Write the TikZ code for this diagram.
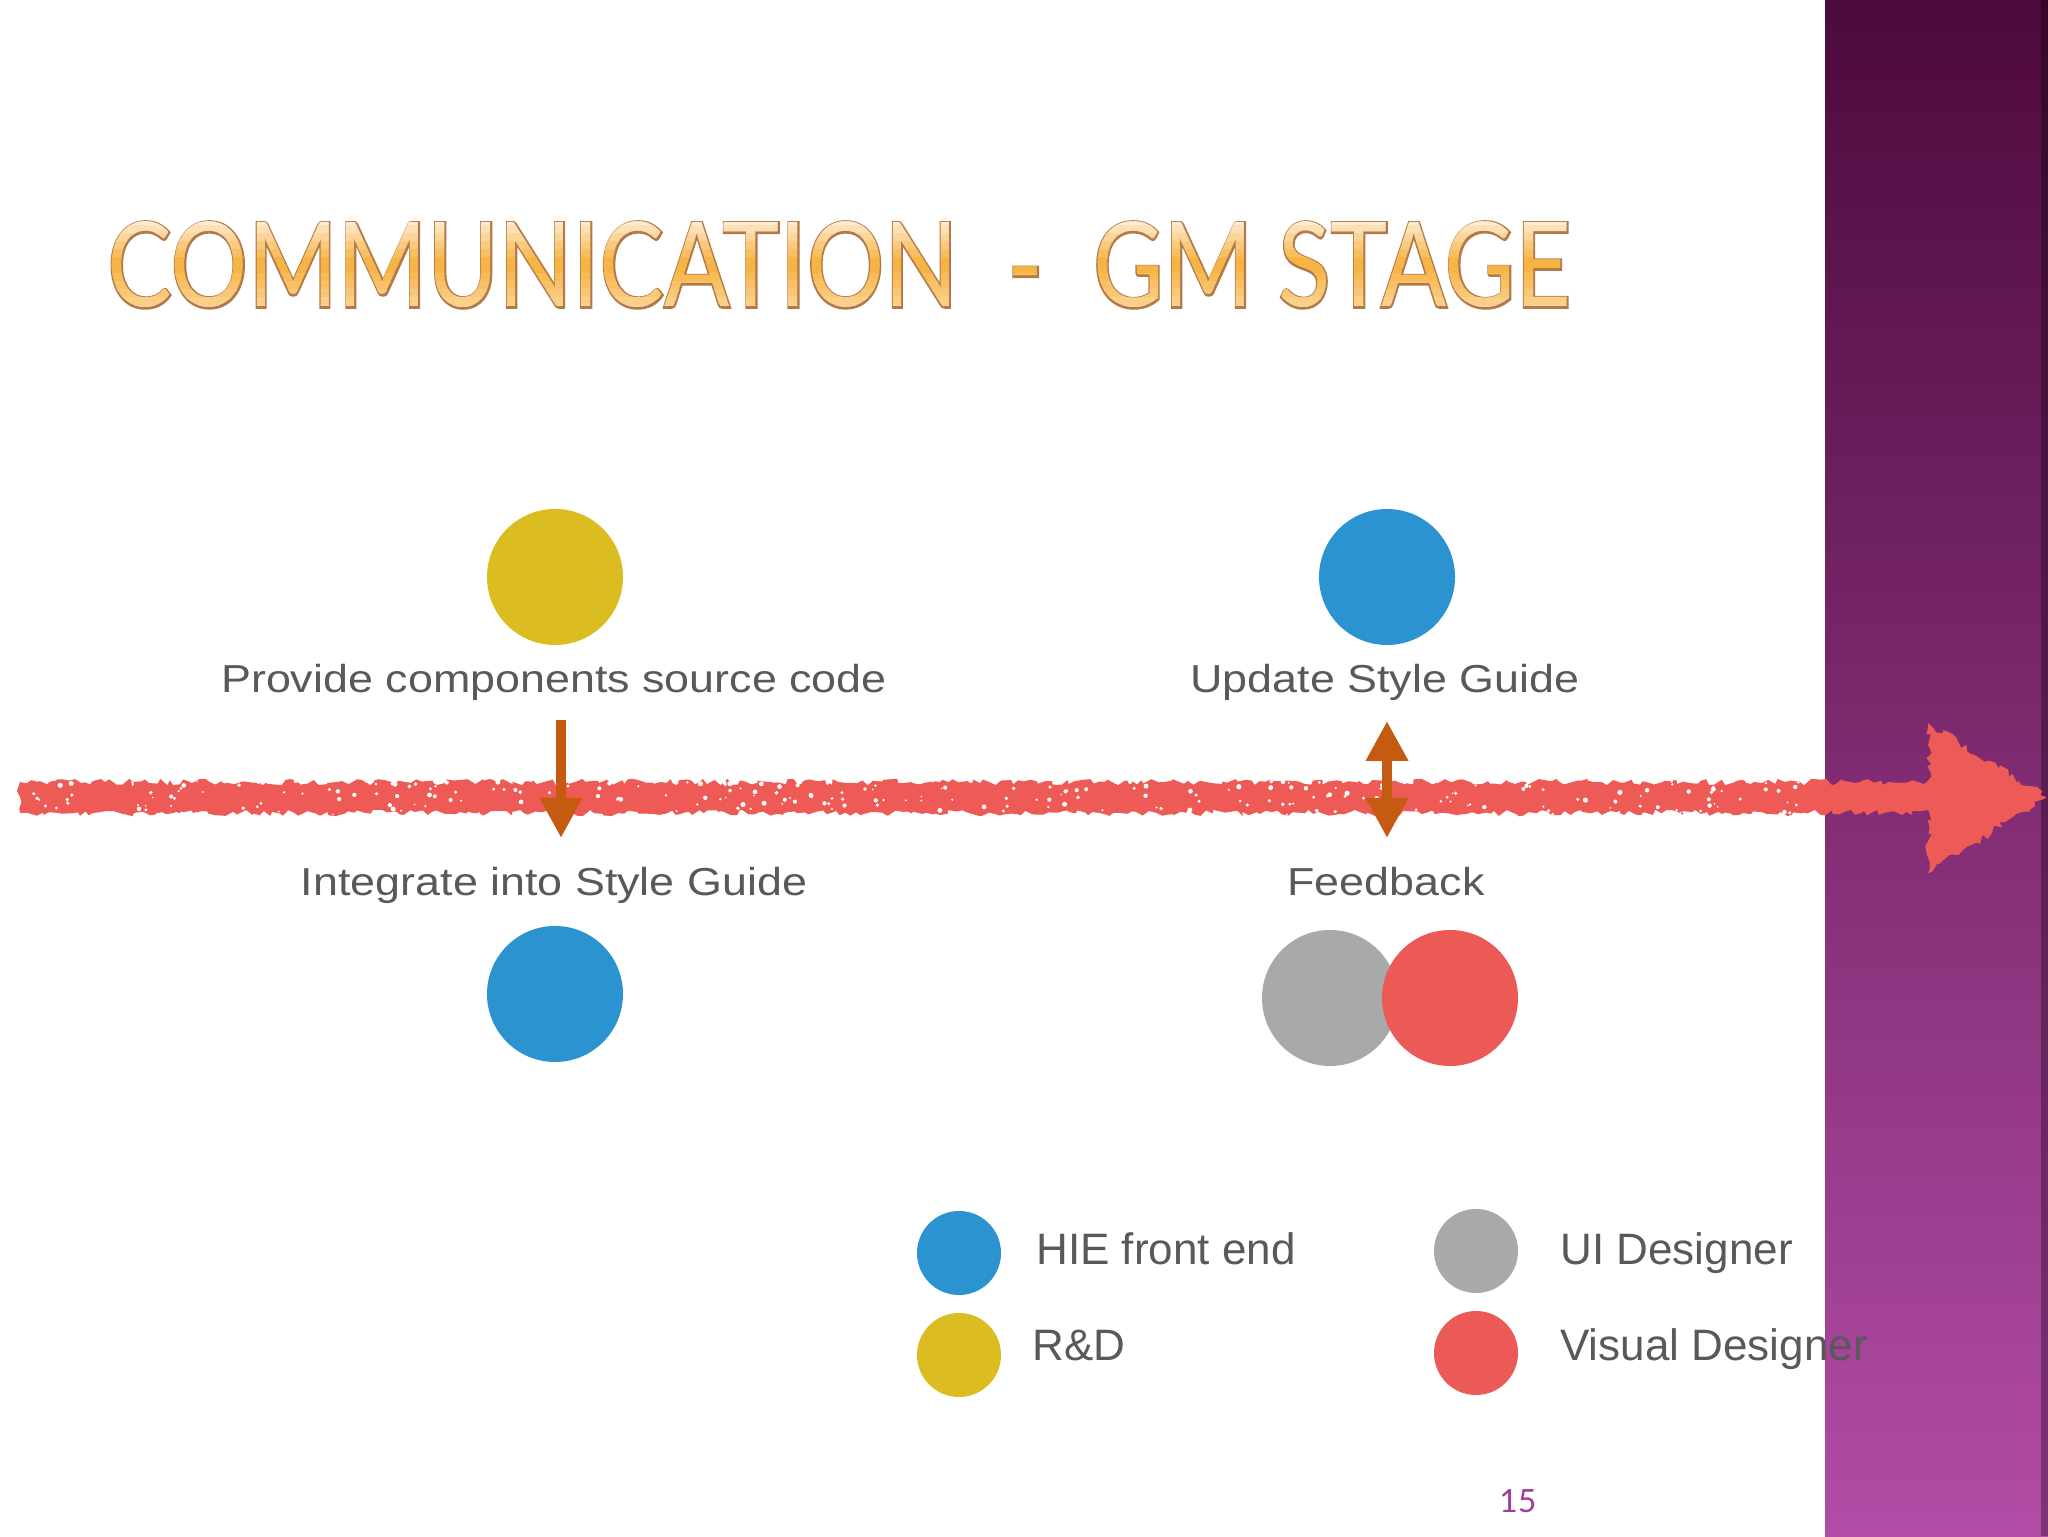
\documentclass[tikz,border=0pt]{standalone}
\usepackage{fontspec}
\usepackage{graphicx}
\usetikzlibrary{arrows.meta,decorations.pathmorphing}
\setmainfont{Liberation Sans}
\newfontfamily\bodyfont{Liberation Sans}
\newfontfamily\titlefont{Lato}
\newfontfamily\titleboldfont{Lato}[FakeBold=3]
\newfontfamily\numfont{Lato}
\definecolor{yellowc}{HTML}{DBBD22}
\definecolor{bluec}{HTML}{2A93D0}
\definecolor{greyc}{HTML}{A7A9AA}
\definecolor{redc}{HTML}{EB5A56}
\definecolor{crayonc}{HTML}{EE5A56}
\definecolor{arrowc}{HTML}{C55A11}
\definecolor{textgrey}{HTML}{595959}
\definecolor{barTop}{HTML}{4C0A3C}
\definecolor{barBot}{HTML}{B24CA6}
\definecolor{titlebrown}{HTML}{B27A4A}
\definecolor{tTop}{HTML}{FDEBD2}
\definecolor{tMid}{HTML}{F7B446}
\definecolor{tBot}{HTML}{FBD9A0}
\definecolor{numc}{HTML}{A23B9A}
\newcommand{\mytitletext}{COMMUNICATION \ - \ GM STAGE}
\newcommand{\mytitlebox}[1]{\resizebox{731.5pt}{42.5pt}{#1\mytitletext}}
\begin{document}
\begin{tikzpicture}[x=0.5pt,y=0.5pt,
  person/.style={circle, minimum size=68pt, inner sep=0pt, draw=none},
  legendc/.style={circle, minimum size=42pt, inner sep=0pt, draw=none},
  lbl/.style={font=\bodyfont\fontsize{19.5pt}{23pt}\selectfont, text=textgrey, inner sep=0pt, anchor=base},
  leg/.style={font=\bodyfont\fontsize{22pt}{26pt}\selectfont, text=textgrey, inner sep=0pt, anchor=base west},
  titlenode/.style={anchor=base west, inner sep=0pt},
  orangearrow/.style={draw=arrowc, line width=5pt}]
\useasboundingbox (0,0) rectangle (2048,1536);
\fill[white] (0,0) rectangle (2048,1536);
% purple side bar
\shade[top color=barTop, bottom color=barBot] (1825,0) rectangle (2048,1536);
\fill[black, opacity=0.3] (2041,0) rectangle (2048,1536);
% title: brown outline, then banded gradient fill
\node[titlenode, text=titlebrown] (title) at (107,1229) {\mytitlebox{\titleboldfont}};
\foreach \k in {0,...,11}{
  \pgfmathsetmacro\ytop{1318-\k*8}
  \pgfmathsetmacro\ybot{\ytop-8.6}
  \ifnum\k<6
    \pgfmathtruncatemacro\pct{100-\k*20}
    \begin{scope}
      \clip (90,\ybot) rectangle (1600,\ytop);
      \node[titlenode, text={tTop!\pct!tMid}] (tb\k) at (107,1229) {\mytitlebox{\titlefont}};
    \end{scope}
  \else
    \pgfmathtruncatemacro\pct{100-(\k-6)*18}
    \begin{scope}
      \clip (90,\ybot) rectangle (1600,\ytop);
      \node[titlenode, text={tMid!\pct!tBot}] (tb\k) at (107,1229) {\mytitlebox{\titlefont}};
    \end{scope}
  \fi
}
% crayon timeline
\pgfmathsetseed{7}
\fill[crayonc, decorate, decoration={random steps, segment length=2.5pt, amplitude=1.6pt}] (20,723) rectangle (1935,754);
\fill[crayonc, decorate, decoration={random steps, segment length=2.5pt, amplitude=2pt}] (1928,813) -- (2046,739) -- (1928,663) -- cycle;
\foreach \i in {1,...,280}{
  \pgfmathsetmacro\sx{30+1780*rnd}
  \pgfmathsetmacro\sy{721+36*rnd}
  \pgfmathsetmacro\sr{0.4+0.9*rnd}
  \fill[white] (\sx,\sy) circle[radius=\sr pt];
}
% arrows
\coordinate (a1s) at (561,816);
\coordinate (a1e) at (561,698);
\draw[orangearrow, -{Triangle[width=20pt,length=20pt]}] (a1s) -- (a1e);
\coordinate (a2s) at (1387,815);
\coordinate (a2e) at (1387,698);
\draw[orangearrow, {Triangle[width=20pt,length=20pt]}-{Triangle[width=20pt,length=20pt]}] (a2s) -- (a2e);
% roles
\node[person, fill=yellowc] (rd1) at (555,959) {};
\node[person, fill=bluec] (hie1) at (1387,959) {};
\node[person, fill=bluec] (hie2) at (555,542) {};
\node[person, fill=greyc] (ui1) at (1330,538) {};
\node[person, fill=redc] (vd1) at (1450,538) {};
% labels
\node[lbl] (t1) at (554,843) {\scalebox{1.15}[1]{Provide components source code}};
\node[lbl] (t2) at (1385,843) {\scalebox{1.15}[1]{Update Style Guide}};
\node[lbl] (t3) at (554,640) {\scalebox{1.15}[1]{Integrate into Style Guide}};
\node[lbl] (t4) at (1386,640) {\scalebox{1.15}[1]{Feedback}};
% legend
\node[legendc, fill=bluec] (lb) at (959,283) {};
\node[legendc, fill=yellowc] (ly) at (959,181) {};
\node[legendc, fill=greyc] (lg) at (1476,285) {};
\node[legendc, fill=redc] (lr) at (1476,183) {};
\node[leg] (lbt) at (1036,271) {HIE front end};
\node[leg] (lyt) at (1032,176) {R\&D};
\node[leg] (lgt) at (1560,271) {UI Designer};
\node[leg] (lrt) at (1560,176) {Visual Designer};
% page number
\node[anchor=base west, inner sep=0pt, text=numc, font=\numfont\fontsize{16pt}{18pt}\selectfont] (pnum) at (1499,24) {15};
\end{tikzpicture}
\end{document}
